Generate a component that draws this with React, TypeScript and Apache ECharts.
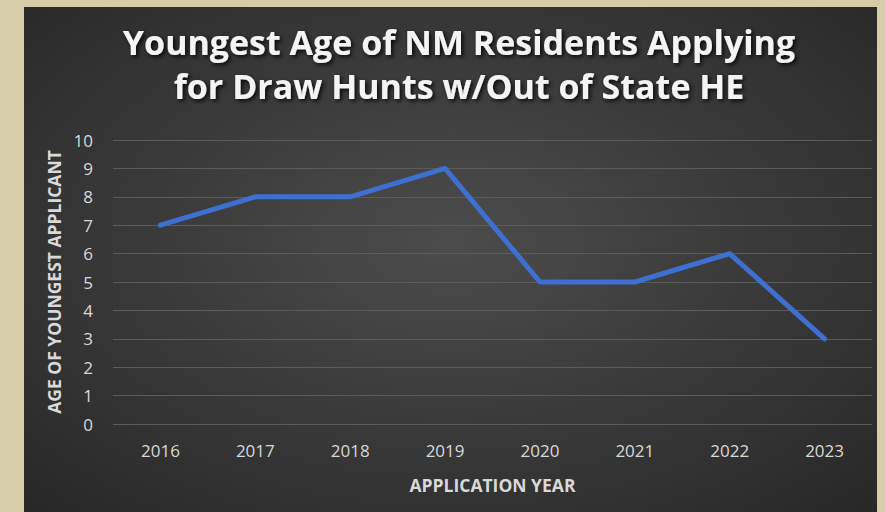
import React, { useEffect, useRef } from "react";
import * as echarts from "echarts";

const titleLines = ["Youngest Age of NM Residents Applying", "for Draw Hunts w/Out of State HE"];
const years = ["2016", "2017", "2018", "2019", "2020", "2021", "2022", "2023"];
const youngestAge = [7, 8, 8, 9, 5, 5, 6, 3];
const yAxisName = "AGE OF YOUNGEST APPLICANT";
const xAxisName = "APPLICATION YEAR";

const FONT = "'Open Sans'";

export default function App() {
  const ref = useRef<HTMLDivElement>(null);
  useEffect(() => {
    if (!ref.current) return;
    const chart = echarts.init(ref.current, undefined, { renderer: "svg" });
    chart.setOption({
      animation: false,
      backgroundColor: "#d6cca8",
      graphic: [
        {
          type: "rect",
          z: -10,
          silent: true,
          shape: { x: 24, y: 7, width: 853, height: 520 },
          style: {
            fill: {
              type: "radial",
              x: 0.5,
              y: 0.45,
              r: 0.75,
              colorStops: [
                { offset: 0, color: "#4c4c4c" },
                { offset: 1, color: "#262626" },
              ],
            },
          },
        },
        ...titleLines.map((t, i) => ({
          type: "text",
          x: 459,
          y: 42 + i * 44,
          style: {
            text: t,
            fill: "#f4f4f4",
            font: `bold 34px ${FONT}`,
            textAlign: "center",
            textVerticalAlign: "middle",
            textShadowColor: "rgba(0,0,0,0.85)",
            textShadowBlur: 4,
            textShadowOffsetX: 2,
            textShadowOffsetY: 2,
          },
        })),
      ],
      grid: { left: 113, right: 13, top: 140, bottom: 88 },
      xAxis: {
        type: "category",
        data: years,
        boundaryGap: true,
        axisLine: { show: false },
        axisTick: { show: false },
        axisLabel: { color: "#d9d9d9", fontFamily: "Open Sans", fontSize: 17, margin: 18 },
        name: xAxisName,
        nameLocation: "middle",
        nameGap: 52,
        nameTextStyle: { color: "#d9d9d9", fontFamily: "Open Sans", fontSize: 17.5, fontWeight: "bold" },
      },
      yAxis: {
        type: "value",
        min: 0,
        max: 10,
        interval: 1,
        axisLine: { show: false },
        axisTick: { show: false },
        splitLine: { lineStyle: { color: "#5c5c5c", width: 1 } },
        axisLabel: { color: "#d9d9d9", fontFamily: "Open Sans", fontSize: 17, margin: 20 },
        name: yAxisName,
        nameLocation: "middle",
        nameGap: 49,
        nameRotate: 90,
        nameTextStyle: { color: "#d9d9d9", fontFamily: "Open Sans", fontSize: 17.5, fontWeight: "bold" },
      },
      series: [
        {
          type: "line",
          data: youngestAge,
          symbol: "none",
          lineStyle: { color: "#3d70d1", width: 5, cap: "round", join: "round" },
        },
      ],
    });
    return () => chart.dispose();
  }, []);
  return (
    <div
      ref={ref}
      style={{ position: "fixed", left: 0, top: 0, width: 885, height: 512 }}
    />
  );
}
